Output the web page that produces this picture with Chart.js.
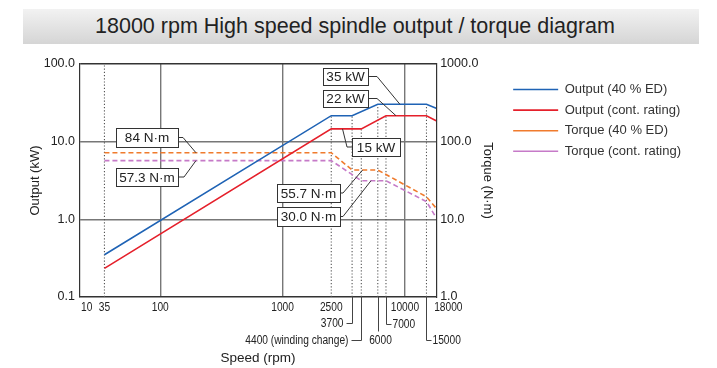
<!DOCTYPE html>
<html>
<head>
<meta charset="utf-8">
<script src="https://cdn.jsdelivr.net/npm/chart.js@4.4.1/dist/chart.umd.min.js"></script>
<style>
  html, body { margin: 0; padding: 0; background: #fff; }
  #wrap { position: relative; width: 717px; height: 368px; overflow: hidden; }
  #title {
    position: absolute; left: 23px; top: 9px; width: 676px; height: 35px;
    box-sizing: border-box; padding-right: 12px;
    background: linear-gradient(#f2f2f2, #d5d5d5);
    font: 21.5px 'Liberation Sans', Arial, sans-serif; color: #222;
    text-align: center; line-height: 35px;
  }
  canvas { position: absolute; left: 0; top: 0; }
</style>
</head>
<body>
<div id="wrap">
  <canvas id="chart" width="717" height="368"></canvas>
  <div id="title">18000 rpm High speed spindle output / torque diagram</div>
</div>
<script>
// the 10-100 decade is squeezed in the original, so the log axis starts near 22
// and the "10" label just marks the left edge
const X_MIN = 22.1;
const X_MAX = 18000;

const seriesNames = ['Output (40 % ED)', 'Output (cont. rating)', 'Torque (40 % ED)', 'Torque (cont. rating)'];

// speeds (rpm) where each curve bends
const speeds40 = [35, 2500, 3700, 6000, 15000, 18000];
const speedsCont = [35, 2500, 4400, 7000, 15000, 18000];

// output in kW (left axis)
const output40 = [0.35, 21.6, 21.6, 30.3, 30.3, 26.9];
const outputCont = [0.234, 14.6, 14.6, 21.6, 21.6, 18.6];

// torque in N·m (right axis)
const torque40 = [72, 72, 43.2, 43.2, 19.5, 13.9];
const torqueCont = [57, 57, 31.4, 31.4, 16.9, 10.5];

// dotted speed markers and the output value they reach up to
const markerSpeeds = [35, 2500, 3700, 4400, 6000, 7000, 15000];
const markerTops = [100, 21.6, 21.6, 14.6, 30.3, 21.6, 30.3];

const xTickValues = [X_MIN, 35, 100, 1000, 2500, 10000, 18000];
const xTickLabels = ['10', '35', '100', '1000', '2500', '10000', '18000'];
const majorSpeeds = [100, 1000, 10000];
const outputTicks = [0.1, 1, 10, 100];
const torqueTicks = [1, 10, 100, 1000];

// speeds noted under the axis
const noteSpeeds = [3700, 4400, 6000, 7000, 15000];
const noteLabels = ['3700', '4400 (winding change)', '6000', '7000', '15000'];

// callout texts and the point of the curve each one points at
const calloutTexts = ['84 N·m', '57.3 N·m', '35 kW', '22 kW', '15 kW', '55.7 N·m', '30.0 N·m'];
const calloutSpeeds = [196, 196, 9100, 8450, 3090, 4510, 5280];
const calloutValues = [72, 57, 30.3, 21.6, 14.6, 43.2, 31.4];
const calloutAxes = ['y1', 'y1', 'y', 'y', 'y', 'y1', 'y1'];


// box placement for the callouts (pixels)
const calloutLayout = [
    {x: 116, y: 128, w: 62, h: 19, side: 'right', elbow: 5},
    {x: 116, y: 168, w: 62, h: 18, side: 'right', elbow: 6},
    {x: 323, y: 68, w: 45, h: 17, side: 'right', elbow: 9},
    {x: 323, y: 90, w: 45, h: 17, side: 'right', elbow: 9},
    {x: 352, y: 138, w: 48, h: 18, side: 'left', elbow: 5},
    {x: 277, y: 184, w: 63, h: 18, side: 'right', elbow: 3},
    {x: 277, y: 207, w: 63, h: 19, side: 'right', elbow: 3}
];

// how the notes hang under the axis (pixels)
const noteLayout = [
    {drop: 26, hook: -6},
    {drop: 43, hook: -10},
    {drop: 34, hook: 0},
    {drop: 27, hook: 5},
    {drop: 43, hook: 5}
];

const FONT = "'Liberation Sans', Arial, sans-serif";
Chart.defaults.font.family = FONT;
Chart.defaults.color = '#222';


function toPoints(xs, ys)
{
    return xs.map((s, i) => ({x: s, y: ys[i]}));
}


// condensed text like the original's narrow face
function narrowText(ctx, text, x, y, align)
{
    ctx.save();
    ctx.translate(x, y);
    ctx.scale(0.85, 1);
    ctx.textAlign = align;
    ctx.fillText(text, 0, 0);
    ctx.restore();
}


const markerPoints = [];
markerSpeeds.forEach((s, i) => {
    markerPoints.push({x: s, y: 0.1}, {x: s, y: markerTops[i]}, {x: s, y: null});
});


const notesPlugin = {
    id: 'notes',
    afterDatasetsDraw(chart) {
        const ctx = chart.ctx;
        const xs = chart.scales.x;
        ctx.save();
        ctx.lineWidth = 1;
        ctx.strokeStyle = '#333';
        calloutTexts.forEach((text, i) => {
            const b = calloutLayout[i];
            const ax = xs.getPixelForValue(calloutSpeeds[i]);
            const ay = chart.scales[calloutAxes[i]].getPixelForValue(calloutValues[i]);
            const sx = b.side === 'right' ? b.x + b.w : b.x;
            const sy = b.y + b.h / 2;
            const ex = b.side === 'right' ? sx + b.elbow : sx - b.elbow;
            ctx.beginPath();
            ctx.moveTo(sx, sy);
            ctx.lineTo(ex, sy);
            ctx.lineTo(ax, ay);
            ctx.stroke();
            ctx.fillStyle = '#fff';
            ctx.fillRect(b.x, b.y, b.w, b.h);
            ctx.strokeRect(b.x + 0.5, b.y + 0.5, b.w, b.h);
            ctx.fillStyle = '#222';
            ctx.font = '13.5px ' + FONT;
            ctx.textAlign = 'center';
            ctx.textBaseline = 'middle';
            ctx.fillText(text, b.x + b.w / 2, sy + 1);
        });
        ctx.restore();
    },
    afterDraw(chart) {
        const ctx = chart.ctx;
        const xs = chart.scales.x;
        const area = chart.chartArea;
        ctx.save();
        ctx.fillStyle = '#222';
        ctx.font = '12px ' + FONT;
        ctx.textBaseline = 'middle';

        // tick labels
        xTickLabels.forEach((label, i) => {
            const px = xs.getPixelForValue(xTickValues[i]);
            if (i === 0) {
                narrowText(ctx, label, px + 1, area.bottom + 11, 'left');
            } else if (i === xTickLabels.length - 1) {
                narrowText(ctx, label, px - 2, area.bottom + 11, 'left');
            } else {
                narrowText(ctx, label, px, area.bottom + 11, 'center');
            }
        });

        // notes under the axis
        ctx.strokeStyle = '#444';
        ctx.lineWidth = 1;
        noteSpeeds.forEach((s, i) => {
            const n = noteLayout[i];
            const px = Math.round(xs.getPixelForValue(s)) + 0.5;
            const py = area.bottom + n.drop + 0.5;
            ctx.beginPath();
            ctx.moveTo(px, area.bottom);
            ctx.lineTo(px, py);
            if (n.hook !== 0) {
                ctx.lineTo(px + n.hook, py);
            }
            ctx.stroke();
            if (n.hook < 0) {
                narrowText(ctx, noteLabels[i], px + n.hook - 3, py, 'right');
            } else if (n.hook > 0) {
                narrowText(ctx, noteLabels[i], px + n.hook + 1, py, 'left');
            } else {
                narrowText(ctx, noteLabels[i], px + 2, py + 9, 'center');
            }
        });
        ctx.restore();
    }
};


const config =
{
    type: 'line',
    data:
    {
        datasets:
        [
            {
                label: seriesNames[0],
                data: toPoints(speeds40, output40),
                yAxisID: 'y',
                borderColor: '#1f63b5',
                backgroundColor: '#1f63b5',
                borderWidth: 1.6
            },
            {
                label: seriesNames[1],
                data: toPoints(speedsCont, outputCont),
                yAxisID: 'y',
                borderColor: '#e5202b',
                backgroundColor: '#e5202b',
                borderWidth: 1.6
            },
            {
                label: seriesNames[2],
                data: toPoints(speeds40, torque40),
                yAxisID: 'y1',
                borderColor: '#f07b2d',
                backgroundColor: '#f07b2d',
                borderWidth: 1.6,
                borderDash: [5, 3]
            },
            {
                label: seriesNames[3],
                data: toPoints(speedsCont, torqueCont),
                yAxisID: 'y1',
                borderColor: '#c67ac8',
                backgroundColor: '#c67ac8',
                borderWidth: 1.6,
                borderDash: [5, 3]
            },
            {
                label: '',
                data: markerPoints,
                yAxisID: 'y',
                borderColor: '#555',
                borderWidth: 1.1,
                borderDash: [1.2, 2],
                spanGaps: false
            }
        ]
    },
    options:
    {
        responsive: false,
        devicePixelRatio: 1,
        animation: false,
        elements: { point: { radius: 0 }, line: { tension: 0, fill: false } },
        layout: { padding: { top: 64, left: 0, right: 26, bottom: 0 } },
        plugins:
        {
            tooltip: { enabled: false },
            legend:
            {
                position: 'right',
                align: 'start',
                maxWidth: 400,
                title: { display: true, text: '', font: { size: 1 }, padding: { top: 10.2, bottom: 0 } },
                labels:
                {
                    usePointStyle: true,
                    pointStyle: 'line',
                    pointStyleWidth: 45,
                    padding: 7.6,
                    color: '#333',
                    font: { size: 13 },
                    filter: (item) => item.text !== ''
                }
            }
        },
        scales:
        {
            x:
            {
                type: 'logarithmic',
                min: X_MIN,
                max: X_MAX,
                afterBuildTicks: (s) => { s.ticks = xTickValues.map(v => ({value: v})); },
                afterFit: (s) => { s.height = 71; },
                ticks: { display: false },
                grid:
                {
                    drawTicks: false,
                    lineWidth: 1.4,
                    color: (c) => majorSpeeds.includes(c.tick && c.tick.value) ? '#777' : 'rgba(0,0,0,0)'
                },
                border: { color: '#333', width: 1.2 },
                title: { display: true, text: 'Speed (rpm)', font: { size: 13.5 }, padding: { top: 0, bottom: 2 } }
            },
            y:
            {
                type: 'logarithmic',
                position: 'left',
                min: 0.1,
                max: 100,
                afterBuildTicks: (s) => { s.ticks = outputTicks.map(v => ({value: v})); },
                afterFit: (s) => { s.width = 80; },
                ticks: { padding: 5, font: { size: 12.5 }, callback: (v) => Number(v).toFixed(1) },
                grid:
                {
                    drawTicks: false,
                    lineWidth: 1.4,
                    color: (c) => (c.tick && c.tick.value === 100) ? '#333' : '#777'
                },
                border: { color: '#333', width: 1.2 },
                title: { display: true, text: 'Output (kW)', font: { size: 13 }, padding: { top: 28, bottom: 0 } }
            },
            y1:
            {
                type: 'logarithmic',
                position: 'right',
                min: 1,
                max: 1000,
                afterBuildTicks: (s) => { s.ticks = torqueTicks.map(v => ({value: v})); },
                afterFit: (s) => { s.width = 69.4; },
                ticks: { padding: 4, font: { size: 12.5 }, callback: (v) => Number(v).toFixed(1) },
                grid: { drawOnChartArea: false, drawTicks: false },
                border: { color: '#333', width: 1.2 },
                title: { display: true, text: 'Torque (N·m)', font: { size: 13 }, padding: { top: 10.5, bottom: 0 } }
            }
        }
    },
    plugins: [notesPlugin]
};


new Chart(document.getElementById('chart'), config);
</script>
</body>
</html>
